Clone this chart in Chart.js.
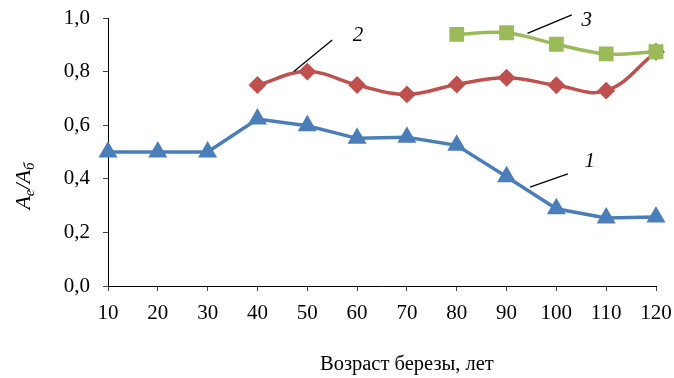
<!DOCTYPE html>
<html>
<head>
<meta charset="utf-8">
<script src="https://cdn.jsdelivr.net/npm/chart.js@4"></script>
<style>
  html, body { margin: 0; padding: 0; background: #fff; }
  #wrap { width: 674px; height: 378px; }
</style>
</head>
<body>
<div id="wrap"><canvas id="c" width="674" height="378"></canvas></div>
<script>
// Birch age, years
const ages = [10, 20, 30, 40, 50, 60, 70, 80, 90, 100, 110, 120];
// Ratio Ae/Aб for the three curves (null = no measurement)
const series1 = [0.50, 0.50, 0.50, 0.623, 0.598, 0.551, 0.555, 0.525, 0.408, 0.288, 0.254, 0.257];
const series2 = [null, null, null, 0.75, 0.80, 0.75, 0.715, 0.752, 0.777, 0.749, 0.729, 0.874];
const series3 = [null, null, null, null, null, null, null, 0.939, 0.945, 0.902, 0.866, 0.874];
const yTickLabels = ['0,0', '0,2', '0,4', '0,6', '0,8', '1,0'];
const xTitle = 'Возраст березы, лет';

// Curve labels with leader lines, in data units
const curveLabels = [
  { text: '1', at: [106.7, 0.463], from: [94.7, 0.369], to: [102.3, 0.418] },
  { text: '2', at: [60.2, 0.934], from: [47.3, 0.800], to: [55.0, 0.918] },
  { text: '3', at: [106.1, 0.990], from: [94.2, 0.943], to: [103.1, 1.012] }
];

const toPoints = arr => ages.map((a, i) => ({ x: a, y: arr[i] }));
const SERIF = '"Liberation Serif", "Times New Roman", serif';

const overlay = {
  id: 'overlay',
  afterDraw(chart) {
    const ctx = chart.ctx;
    const xs = chart.scales.x, ys = chart.scales.y;
    ctx.save();
    // leader lines and numbers
    ctx.strokeStyle = '#000';
    ctx.lineWidth = 1.3;
    ctx.fillStyle = '#000';
    ctx.font = 'italic 21px ' + SERIF;
    ctx.textAlign = 'center';
    ctx.textBaseline = 'middle';
    curveLabels.forEach(l => {
      ctx.beginPath();
      ctx.moveTo(xs.getPixelForValue(l.from[0]), ys.getPixelForValue(l.from[1]));
      ctx.lineTo(xs.getPixelForValue(l.to[0]), ys.getPixelForValue(l.to[1]));
      ctx.stroke();
      ctx.fillText(l.text, xs.getPixelForValue(l.at[0]), ys.getPixelForValue(l.at[1]));
    });
    // x axis title, sitting a little right of the plot centre
    ctx.font = '20.5px ' + SERIF;
    ctx.fillText(xTitle, xs.getPixelForValue(70), chart.height - 13);
    // y axis title: A_е / A_б
    const parts = [
      { t: 'A', f: 'italic 22px ' + SERIF, dy: 0 },
      { t: 'е', f: 'italic 15px ' + SERIF, dy: 4 },
      { t: '/', f: 'italic 22px ' + SERIF, dy: 0 },
      { t: 'A', f: 'italic 22px ' + SERIF, dy: 0 },
      { t: 'б', f: 'italic 15px ' + SERIF, dy: 4 }
    ];
    let total = 0;
    parts.forEach(p => { ctx.font = p.f; p.w = ctx.measureText(p.t).width; total += p.w; });
    ctx.translate(30, 186);
    ctx.rotate(-Math.PI / 2);
    ctx.textAlign = 'left';
    ctx.textBaseline = 'alphabetic';
    let x = -total / 2;
    parts.forEach(p => {
      ctx.font = p.f;
      ctx.fillText(p.t, x, p.dy);
      x += p.w;
    });
    ctx.restore();
  }
};

new Chart(document.getElementById('c'), {
  type: 'line',
  data: {
    datasets: [
      {
        data: toPoints(series3),
        borderColor: '#9BBB59', backgroundColor: '#9BBB59',
        borderWidth: 3.5, tension: 0.35,
        pointStyle: 'rect', pointRadius: 8, pointHoverRadius: 8,
        order: 0, clip: false
      },
      {
        data: toPoints(series2),
        borderColor: '#C0504D', backgroundColor: '#C0504D',
        borderWidth: 3.5, tension: 0.4,
        pointStyle: 'rectRot', pointRadius: 6.5, pointHoverRadius: 6.5,
        order: 1, clip: false
      },
      {
        data: toPoints(series1),
        borderColor: '#4A7EBB', backgroundColor: '#4A7EBB',
        borderWidth: 3.5, tension: 0,
        pointStyle: 'triangle', pointRadius: 7.5, pointHoverRadius: 7.5,
        order: 2, clip: false
      }
    ]
  },
  options: {
    responsive: false,
    animation: false,
    events: [],
    layout: { padding: { top: 18, right: 18, left: 0, bottom: 0 } },
    plugins: { legend: { display: false }, tooltip: { enabled: false } },
    scales: {
      x: {
        type: 'linear', min: 10, max: 120,
        afterBuildTicks: s => { s.ticks = ages.map(v => ({ value: v })); },
        afterFit: s => { s.height = 92; s.paddingLeft = 0; s.paddingRight = 0; },
        border: { color: '#000', width: 1 },
        grid: { drawOnChartArea: false, tickLength: 5, color: '#444' },
        ticks: {
          color: '#000', padding: 10, maxRotation: 0, autoSkip: false,
          font: { family: SERIF, size: 21 },
          callback: v => String(v)
        }
      },
      y: {
        min: 0, max: 1,
        afterBuildTicks: s => { s.ticks = yTickLabels.map((_, i) => ({ value: i * 0.2 })); },
        afterFit: s => { s.width = 108; s.paddingTop = 0; s.paddingBottom = 0; },
        border: { color: '#000', width: 1 },
        grid: { drawOnChartArea: false, tickLength: 5, color: '#444' },
        ticks: {
          color: '#000', padding: 13,
          font: { family: SERIF, size: 21 },
          callback: (v, i) => yTickLabels[i]
        }
      }
    }
  },
  plugins: [overlay]
});
</script>
</body>
</html>
